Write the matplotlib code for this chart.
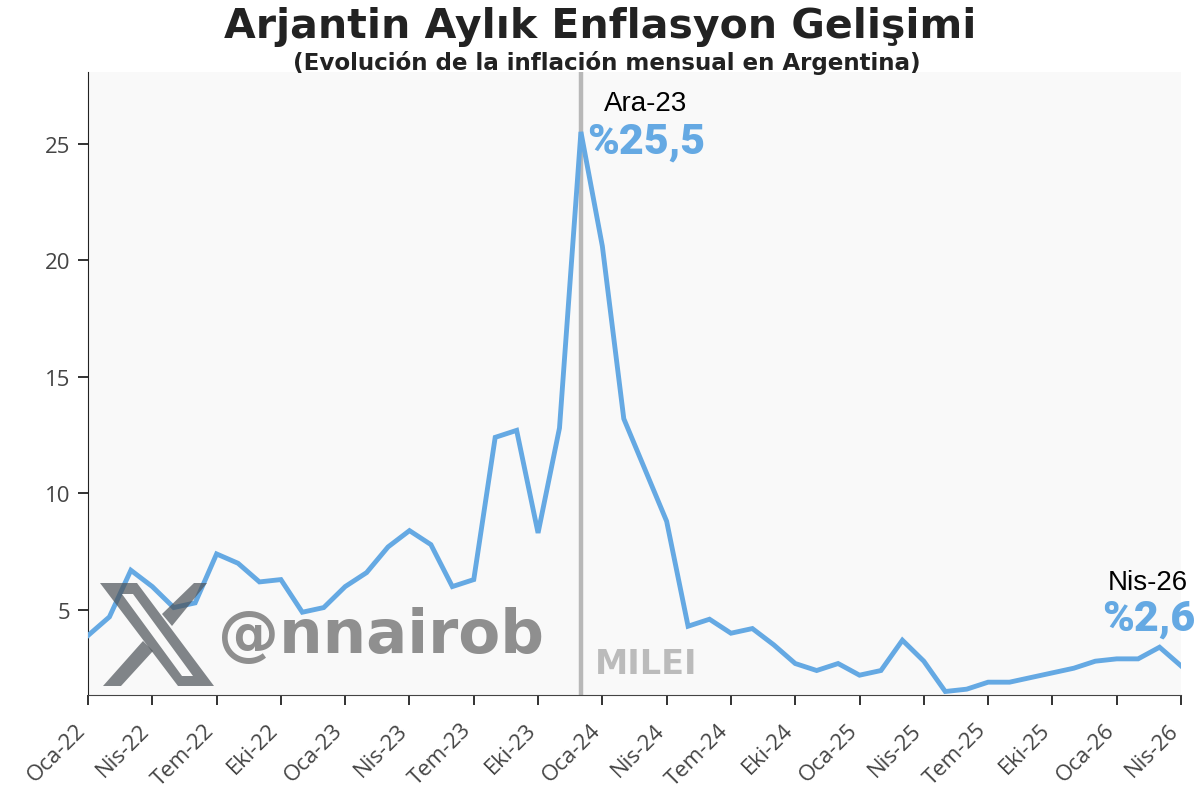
import matplotlib.pyplot as plt
from matplotlib.patches import Polygon
from matplotlib.transforms import ScaledTranslation

months = ['Oca', 'Şub', 'Mar', 'Nis', 'May', 'Haz', 'Tem', 'Ağu', 'Eyl', 'Eki', 'Kas', 'Ara']
years = ['22', '23', '24', '25', '26']
dates = [f'{m}-{y}' for y in years for m in months][:52]

inflation = [3.9, 4.7, 6.7, 6.0, 5.1, 5.3, 7.4, 7.0, 6.2, 6.3, 4.9, 5.1,
             6.0, 6.6, 7.7, 8.4, 7.8, 6.0, 6.3, 12.4, 12.7, 8.3, 12.8, 25.5,
             20.6, 13.2, 11.0, 8.8, 4.3, 4.6, 4.0, 4.2, 3.5, 2.7, 2.4, 2.7,
             2.2, 2.4, 3.7, 2.8, 1.5, 1.6, 1.9, 1.9, 2.1, 2.3, 2.5, 2.8,
             2.9, 2.9, 3.4, 2.6]
yticks = [5, 10, 15, 20, 25]

W, H = 1200, 804
BLUE = '#65a9e3'

fig = plt.figure(figsize=(12, 8.04), dpi=100)
ax = fig.add_axes([88 / W, 1 - 696 / H, 1093 / W, 623 / H])
ax.set_facecolor('#f9f9f9')

x = range(len(dates))
ax.axvline(dates.index('Ara-23'), color='#b8b8b8', lw=3.2, zorder=2)
ax.plot(x, inflation, color=BLUE, lw=3.5, zorder=3, solid_joinstyle='miter')

ax.set_xlim(0, len(dates) - 1)
ax.set_ylim(1.35, 28.07)
ax.set_yticks(yticks)
ax.set_xticks(list(x)[::3])
ax.set_xticklabels(dates[::3], rotation=45, ha='right', rotation_mode='anchor')
ax.tick_params(axis='both', length=7, width=1.3, color='#222222', labelcolor='#444444',
               labelsize=16, pad=6)
shift = ScaledTranslation(-13 / 100, -6 / 100, fig.dpi_scale_trans)
for label in ax.get_xticklabels():
    label.set_family('Open Sans')
    label.set_transform(label.get_transform() + shift)
for label in ax.get_yticklabels():
    label.set_family('Open Sans')
ax.spines['top'].set_visible(False)
ax.spines['right'].set_visible(False)
ax.spines['left'].set_color('#222222')
ax.spines['bottom'].set_color('#444444')


def px(xp, yp):
    return xp / W, 1 - yp / H


def txt(xp, yp, s, **kw):
    fig.text(*px(xp, yp), s, ha='center', va='center', **kw)


txt(600, 27, 'Arjantin Aylık Enflasyon Gelişimi', family='DejaVu Sans', weight='bold', size=29.5, color='#222222')
txt(607, 63, '(Evolución de la inflación mensual en Argentina)', family='DejaVu Sans', weight='bold',
    size=16.6, color='#222222')
txt(646, 104, 'Ara-23', family='Liberation Sans', size=20, color='black')
txt(646, 142, '%25,5', family='Roboto', weight='black', size=31, color=BLUE)
txt(1148, 583, 'Nis-26', family='Liberation Sans', size=20, color='black')
txt(1149, 619, '%2,6', family='Roboto', weight='black', size=31, color=BLUE)
txt(646, 665, 'MILEI', family='DejaVu Sans', weight='bold', size=24, color='#bbbbbb')

# watermark
txt(381, 637, '@nnairob', family='DejaVu Sans', weight='bold', size=44, color='#666666', alpha=0.72, zorder=5)
logo = [
    [(100, 584), (137, 584), (214, 687), (178, 687)],
    [(194, 584), (207, 584), (172, 627), (162, 615)],
    [(103, 687), (121, 687), (153, 652), (143, 642)],
]
for pts in logo:
    fig.add_artist(Polygon([px(*p) for p in pts], closed=True, transform=fig.transFigure,
                           facecolor='#4d5358', alpha=0.7, edgecolor='none', zorder=5))
hole = [(122, 595), (133, 595), (193, 677), (182, 677)]
fig.add_artist(Polygon([px(*p) for p in hole], closed=True, transform=fig.transFigure,
                       facecolor='#f9f9f9', edgecolor='none', zorder=6))

fig.savefig('out.png', dpi=100)
plt.close()
